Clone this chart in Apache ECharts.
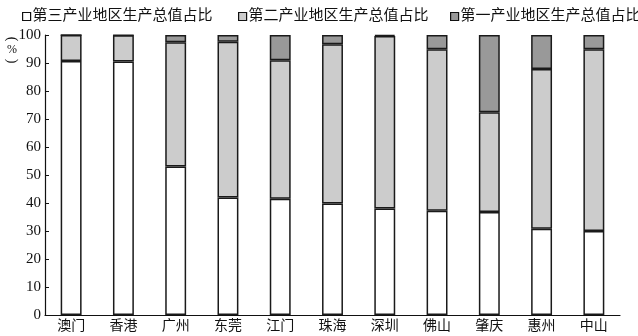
<!DOCTYPE html>
<html><head><meta charset="utf-8">
<script src="https://cdn.jsdelivr.net/npm/echarts@6/dist/echarts.min.js"></script>
<style>html,body{margin:0;padding:0;background:#fff}#c{width:638px;height:336px}</style>
</head><body><div id="c"></div>
<script>
var categories = ['澳门','香港','广州','东莞','江门','珠海','深圳','佛山','肇庆','惠州','中山'];
var tertiary = [90.7, 90.5, 53.0, 42.0, 41.5, 39.8, 38.0, 37.2, 36.8, 30.8, 30.0];
var secondary = [9.3, 9.4, 44.4, 55.6, 49.5, 56.9, 61.6, 57.7, 35.6, 57.1, 64.9];
var primary = [0.0, 0.1, 2.6, 2.4, 9.0, 3.3, 0.4, 5.1, 27.6, 12.1, 5.1];
var seriesNames = ['第三产业地区生产总值占比','第二产业地区生产总值占比','第一产业地区生产总值占比'];
var yTicks = [0,10,20,30,40,50,60,70,80,90,100];

var FONT = '"Liberation Serif", "Noto Sans CJK SC", serif';
var chart = echarts.init(document.getElementById('c'));
function mk(name, data, color) {
  return {
    name: name, type: 'bar', stack: 'all', data: data, barWidth: '40%',
    itemStyle: { color: color, borderColor: '#1a1a1a', borderWidth: 1.5 },
    emphasis: { disabled: true }
  };
}
var legendLefts = [17, 233, 445];
var legends = seriesNames.map(function(n, i){
  return {
    top: 4, left: legendLefts[i], itemWidth: 8, itemHeight: 8, icon: 'rect',
    textStyle: { fontSize: 15, color: '#111', fontFamily: FONT, padding: [0,0,0,-3] },
    data: [{ name: n, itemStyle: { borderColor: '#111', borderWidth: 1.2 } }]
  };
});
chart.setOption({
  animation: false,
  textStyle: { fontFamily: FONT },
  legend: legends,
  grid: { left: 45, right: 18, top: 35, bottom: 21, containLabel: false },
  xAxis: {
    type: 'category', data: categories,
    axisLine: { lineStyle: { color: '#111', width: 1.2 } },
    axisTick: { inside: true, length: 5, lineStyle: { color: '#111' } },
    axisLabel: { color: '#111', fontSize: 14, margin: 4, fontFamily: FONT }
  },
  yAxis: {
    type: 'value', min: 0, max: 100, interval: 10,
    axisLine: { show: true, lineStyle: { color: '#111', width: 1.2 } },
    axisTick: { show: true, inside: true, length: 4, lineStyle: { color: '#111' } },
    axisLabel: { color: '#111', fontSize: 15, margin: 4, fontFamily: FONT,
      formatter: function(v){ return yTicks.indexOf(v) >= 0 ? String(v) : ''; } },
    splitLine: { show: false }
  },
  graphic: [
    { type: 'text', x: 12, y: 39, rotation: -Math.PI/2, originX: 0, originY: 0,
      style: { text: '(', fontSize: 14, fill: '#111', align: 'center', verticalAlign: 'middle', fontFamily: FONT } },
    { type: 'text', x: 12, y: 50,
      style: { text: '%', fontSize: 12, fill: '#111', align: 'center', verticalAlign: 'middle', fontFamily: FONT } },
    { type: 'text', x: 12, y: 61, rotation: -Math.PI/2, originX: 0, originY: 0,
      style: { text: ')', fontSize: 14, fill: '#111', align: 'center', verticalAlign: 'middle', fontFamily: FONT } }
  ],
  series: [
    mk(seriesNames[0], tertiary, '#ffffff'),
    mk(seriesNames[1], secondary, '#cccccc'),
    mk(seriesNames[2], primary, '#999999')
  ]
});
</script></body></html>
